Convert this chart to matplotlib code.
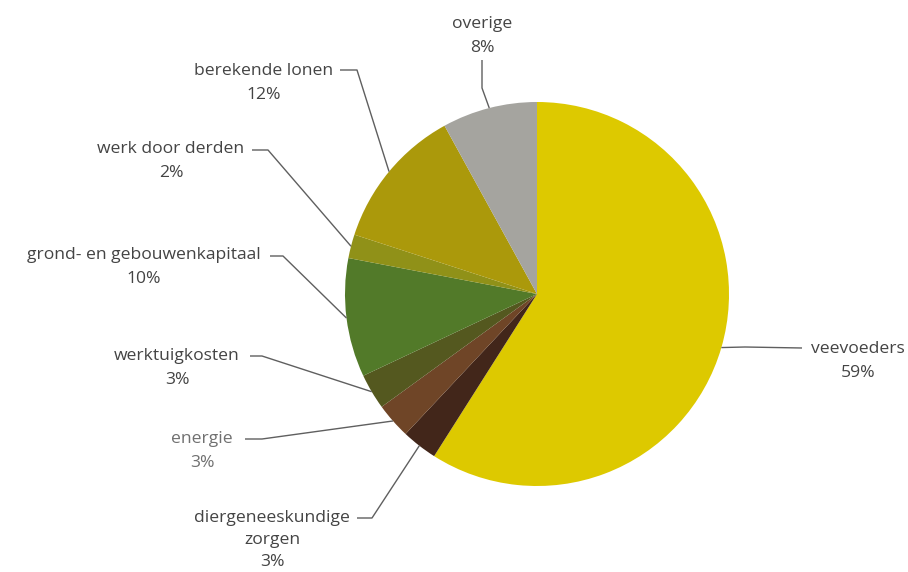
"""Kostprijsopbouw: taartdiagram met labels en verbindingslijnen."""
import matplotlib
matplotlib.use("Agg")
import matplotlib.pyplot as plt
import numpy as np

categories = [
    "veevoeders",
    "diergeneeskundige\nzorgen",
    "energie",
    "werktuigkosten",
    "grond- en gebouwenkapitaal",
    "werk door derden",
    "berekende lonen",
    "overige",
]
shares = [59, 3, 3, 3, 10, 2, 12, 8]
colors = ["#DDC900", "#42261A", "#6F4527", "#54581F", "#527A29",
          "#909118", "#AB990B", "#A5A49F"]

# layout in pixels: text block centre, start of leader line, elbow
label_layout = [
    ((858, 361), (802, 348), (745, 347)),
    ((272, 540), (357, 518), (372, 518)),
    ((202, 451), (245, 439), (262, 439)),
    ((177, 368), (250, 356), (262, 356)),
    ((144, 267), (270, 256), (283, 256)),
    ((171, 161), (252, 150), (268, 150)),
    ((264, 83), (340, 70), (357, 70)),
    ((482, 36), (482, 60), (482, 88)),
]

W, H = 908, 572
cx, cy, r = 537, 294, 192

fig = plt.figure(figsize=(W / 100, H / 100), dpi=100)
ax = fig.add_axes([0, 0, 1, 1])

# y is inverted, so counterclockwise in data = clockwise on screen
wedges, _ = ax.pie(shares, colors=colors, center=(cx, cy), radius=r,
                   startangle=270, counterclock=True, frame=True,
                   wedgeprops=dict(linewidth=0))
ax.set_xlim(0, W)
ax.set_ylim(H, 0)
ax.set_aspect("equal")
ax.axis("off")

for wedge, name, pct, (tpos, start, elbow) in zip(wedges, categories, shares, label_layout):
    mid = np.deg2rad((wedge.theta1 + wedge.theta2) / 2)
    end = (cx + r * np.cos(mid), cy + r * np.sin(mid))
    ax.plot([start[0], elbow[0], end[0]], [start[1], elbow[1], end[1]],
            color="#5f5f5f", lw=1.0, solid_capstyle="butt")
    tcolor = "#707070" if name == "energie" else "#444444"
    spacing = 1.5 if "\n" in name else 1.6
    ax.text(tpos[0], tpos[1], f"{name}\n{pct}%", ha="center", va="center",
            multialignment="center", fontsize=12.6, family="Open Sans",
            color=tcolor, linespacing=spacing)

fig.savefig("out.png", dpi=100)
plt.close(fig)
